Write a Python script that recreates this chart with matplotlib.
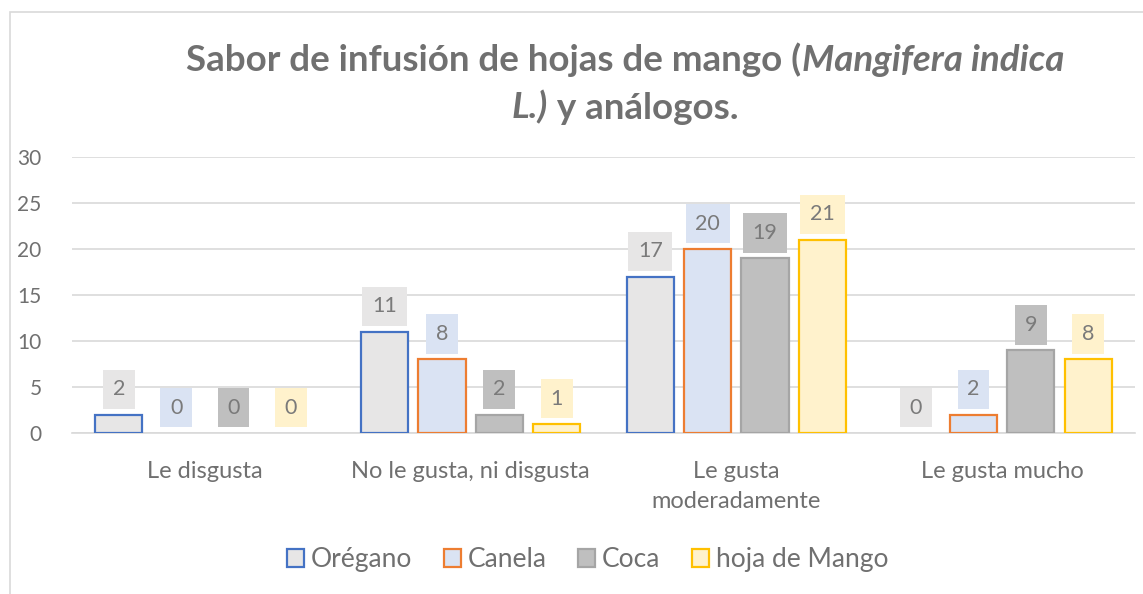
import matplotlib
matplotlib.use("Agg")
import matplotlib.pyplot as plt
import numpy as np
from matplotlib.patches import Rectangle, Patch

categories = ["Le disgusta", "No le gusta, ni disgusta", "Le gusta\nmoderadamente", "Le gusta mucho"]
series = ["Orégano", "Canela", "Coca", "hoja de Mango"]
oregano = [2, 11, 17, 0]
canela = [0, 8, 20, 2]
coca = [0, 2, 19, 9]
mango = [0, 1, 21, 8]
yticks = [0, 5, 10, 15, 20, 25, 30]

fills = ["#E7E6E6", "#DAE3F3", "#BFBFBF", "#FFF2CC"]
edges = ["#4472C4", "#ED7D31", "#A5A5A5", "#FFC000"]
text_gray = "#707070"
font = "Lato"

fig = plt.figure(figsize=(11.43, 5.94), dpi=100)
ax = fig.add_axes([0.063, 0.271, 0.930, 0.465])

x = np.arange(len(categories))
width = 0.178
step = 0.216
values = [oregano, canela, coca, mango]

for i, (name, vals) in enumerate(zip(series, values)):
    pos = x + (i - 1.5) * step
    lws = [1.6 if v > 0 else 0 for v in vals]
    ax.bar(pos, vals, width=width, color=fills[i], edgecolor=edges[i],
           linewidth=lws, label=name, zorder=3)
    for px, v in zip(pos, vals):
        ax.annotate(str(v), (px, v), xytext=(0, 11), textcoords="offset points",
                    ha="center", va="bottom", fontsize=15.5, color="#7A7A7A",
                    family=font, zorder=4,
                    bbox=dict(boxstyle="square,pad=0.45", fc=fills[i], ec="none"))

ax.set_xlim(-0.5, 3.5)
ax.set_ylim(0, 30)
ax.set_yticks(yticks)
ax.set_yticklabels([str(t) for t in yticks], family=font, fontsize=15, color=text_gray)
ax.set_xticks(x)
ax.set_xticklabels(categories, family=font, fontsize=17, color=text_gray, linespacing=1.55)
ax.tick_params(axis="x", length=0, pad=20)
ax.tick_params(axis="y", length=0, pad=22)
ax.yaxis.grid(True, color="#D9D9D9", linewidth=1.2, zorder=0)
ax.set_axisbelow(True)
for s in ["top", "right", "left"]:
    ax.spines[s].set_visible(False)
ax.spines["bottom"].set_color("#D9D9D9")
ax.spines["bottom"].set_linewidth(1.2)

handles = [Patch(facecolor=fills[i], edgecolor=edges[i], linewidth=1.6) for i in range(4)]
leg = fig.legend(handles, series, loc="center", bbox_to_anchor=(0.514, 0.058), ncol=4,
                 frameon=False, prop={"family": font, "size": 19}, handlelength=0.65,
                 handleheight=0.65, handletextpad=0.25, columnspacing=1.2)
for t in leg.get_texts():
    t.set_color(text_gray)

# chart border
fig.patches.append(Rectangle((0.009, -0.01), 0.995, 0.99, transform=fig.transFigure,
                             fill=False, ec="#D9D9D9", lw=1.2))

# title with mixed bold / bold-italic parts
lines = [
    [("Sabor de infusión de hojas de mango (", "normal"), ("Mangifera indica", "italic")],
    [("L.)", "italic"), (" y análogos.", "normal")],
]
ys = [0.88, 0.80]
cx = 0.547
fig.canvas.draw()
renderer = fig.canvas.get_renderer()
for parts, yy in zip(lines, ys):
    texts = []
    widths = []
    for s, style in parts:
        t = fig.text(0, yy, s, fontsize=26.5, fontweight="bold", style=style,
                     family=font, color=text_gray, ha="left", va="baseline")
        bb = t.get_window_extent(renderer)
        texts.append(t)
        widths.append(bb.width / fig.bbox.width)
    start = cx - sum(widths) / 2
    for t, w in zip(texts, widths):
        t.set_x(start)
        start += w

fig.savefig("out.png", dpi=100)
